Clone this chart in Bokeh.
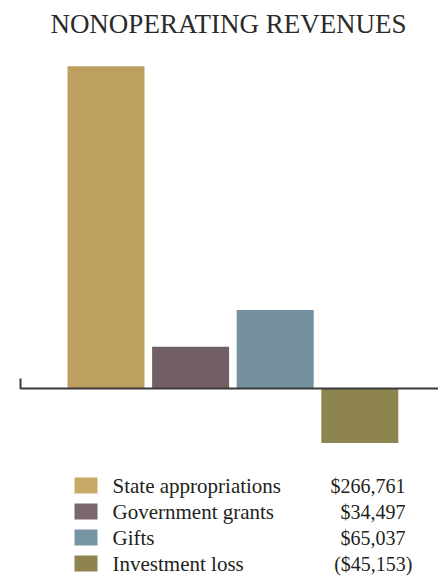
from bokeh.plotting import figure
from bokeh.models import Range1d
from bokeh.embed import file_html
from bokeh.resources import INLINE
from bokeh.core.properties import value

# ---- data ----
title_text = "NONOPERATING REVENUES"
categories = ["State appropriations", "Government grants", "Gifts", "Investment loss"]
amounts = [266761, 34497, 65037, -45153]
amount_labels = ["$266,761", "$34,497", "$65,037", "($45,153)"]
bar_colors = ["#BDA060", "#725F66", "#7590A0", "#8E844F"]
legend_colors = ["#C8A865", "#7A666D", "#7794A4", "#8E844F"]

# ---- layout (pixel geometry) ----
W, H = 438, 581
BASE_PY = 388.0            # y of zero line in the reference picture
K = 266761 / (388 - 65.7)  # value units per pixel


def yv(py):
    return (BASE_PY - py) * K


FONT = value("Liberation Serif")
TEXT_COLOR = "#231F20"

p = figure(width=W, height=H, output_backend="svg", toolbar_location=None,
           x_range=Range1d(0, W), y_range=Range1d(yv(H), yv(0)),
           min_border=0, outline_line_color=None)
p.axis.visible = False
p.grid.visible = False
p.background_fill_color = "white"
p.border_fill_color = "white"

# bars
xs = [105.5 + i * 84.6 for i in range(len(amounts))]
p.vbar(x=xs, top=amounts, bottom=0, width=77, fill_color=bar_colors, line_color=None)

# zero line with left tick
p.line(x=[20, 20, W], y=[yv(378), 0, 0], line_color="#3A3A3A", line_width=2)

# title
p.text(x=[228], y=[yv(23)], text=[title_text], text_font=FONT, text_font_size="27px",
       text_align="center", text_baseline="middle", text_color="#2A2A2A")

# legend
row_py = [485, 511, 537, 563]
p.quad(left=[74] * 4, right=[97] * 4,
       top=[yv(r - 8) for r in row_py], bottom=[yv(r + 8) for r in row_py],
       fill_color=legend_colors, line_color=None)
p.text(x=[112] * 4, y=[yv(r) for r in row_py], text=categories, text_font=FONT,
       text_font_size="21px", text_baseline="middle", text_color=TEXT_COLOR)
val_x = [405, 405, 405, 412]
p.text(x=val_x, y=[yv(r) for r in row_py], text=amount_labels, text_font=FONT,
       text_font_size="20px", text_align="right", text_baseline="middle", text_color=TEXT_COLOR)

open("out.html", "w").write(file_html(p, INLINE))
